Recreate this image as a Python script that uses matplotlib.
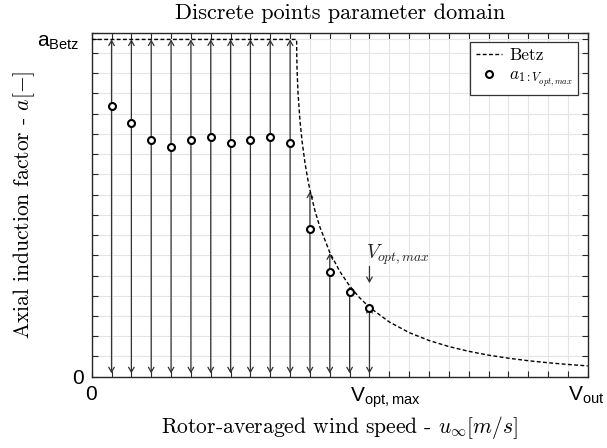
import matplotlib
matplotlib.use('Agg')
import matplotlib.pyplot as plt
from matplotlib.lines import Line2D
from matplotlib.ticker import FixedLocator, MultipleLocator, FixedFormatter
from matplotlib.transforms import ScaledTranslation

plt.rcParams['mathtext.fontset'] = 'cm'
plt.rcParams['axes.unicode_minus'] = False

# ---------------- data ----------------
A_BETZ = 1 / 3
V_OPT_MAX = 14
V_OUT = 25

speeds = [1, 2, 3, 4, 5, 6, 7, 8, 9, 10, 11, 12, 13, 14]
a_points = [0.268, 0.251, 0.234, 0.227, 0.234, 0.237, 0.231, 0.234, 0.237, 0.231,
            0.146, 0.103, 0.084, 0.068]
a_upper = [A_BETZ] * 10 + [0.183, 0.122, 0.089, 0.069]

betz_speed = [0, 10.33, 10.331, 10.335, 10.34, 10.35, 10.4, 10.5, 10.6, 10.75, 10.9,
              11, 11.25, 11.5, 12, 12.5, 13, 13.5, 14, 15, 16, 17, 18, 19, 20,
              21, 22, 23, 24, 25]
betz_a = [A_BETZ, A_BETZ, 0.3268, 0.3188, 0.313, 0.304, 0.280, 0.2526, 0.2332, 0.2113,
          0.1942, 0.1845, 0.1642, 0.148, 0.1228, 0.1042, 0.0897, 0.0781, 0.0686,
          0.0541, 0.0436, 0.0358, 0.0298, 0.0251, 0.0213, 0.0183, 0.0158, 0.0138,
          0.0121, 0.0107]

x_tick_values = [0, V_OPT_MAX, V_OUT]
x_tick_labels = [r'$\mathregular{0}$', r'$\mathregular{V_{opt,max}}$', r'$\mathregular{V_{out}}$']
y_tick_values = [0, A_BETZ]
y_tick_labels = [r'$\mathregular{0}$', r'$\mathregular{a_{Betz}}$']

# ---------------- figure ----------------
W, H = 607, 448
fig = plt.figure(figsize=(W / 100, H / 100), dpi=100)
ax = fig.add_axes([91.7 / W, 1 - 376.7 / H, 496 / W, 344 / H])

ax.set_xlim(0, V_OUT)
ax.set_ylim(0, 0.34)

spine_col = '#262626'
for s in ax.spines.values():
    s.set_color(spine_col)
    s.set_linewidth(1.0)

ax.xaxis.set_major_locator(FixedLocator(x_tick_values))
ax.xaxis.set_major_formatter(FixedFormatter(x_tick_labels))
ax.xaxis.set_minor_locator(MultipleLocator(1))
ax.yaxis.set_major_locator(FixedLocator(y_tick_values))
ax.yaxis.set_major_formatter(FixedFormatter(y_tick_labels))
ax.yaxis.set_minor_locator(MultipleLocator(0.02))

ax.tick_params(which='both', direction='in', top=True, right=True,
               color=spine_col, width=0.8, length=4)
ax.tick_params(axis='x', which='major', pad=6)
ax.tick_params(axis='y', which='major', pad=5)

tick_font = dict(family='Liberation Sans', size=15)
x_shift_px = [0, 16, -1]
y_shift_px = [0, -5]
for lab, dx in zip(ax.get_xticklabels(), x_shift_px):
    lab.set_fontfamily(tick_font['family'])
    lab.set_fontsize(tick_font['size'])
    lab.set_transform(lab.get_transform() + ScaledTranslation(dx / 100, 0, fig.dpi_scale_trans))
for lab, dx in zip(ax.get_yticklabels(), y_shift_px):
    lab.set_fontfamily(tick_font['family'])
    lab.set_fontsize(tick_font['size'])
    lab.set_transform(lab.get_transform() + ScaledTranslation(dx / 100, 0, fig.dpi_scale_trans))

ax.grid(True, which='both', color='#e4e4e4', linewidth=0.8)
ax.set_axisbelow(True)

dash = (0, (2.8, 1.7))
# Betz limit
ax.plot(betz_speed, betz_a, linestyle=dash, color='black', linewidth=1.0, zorder=3)

# double arrows for the parameter domain
for v, top in zip(speeds, a_upper):
    ax.annotate('', xy=(v, top), xytext=(v, 0),
                arrowprops=dict(arrowstyle='<->, head_length=0.35, head_width=0.2',
                                color='#333333', lw=0.9, shrinkA=2.4, shrinkB=0),
                zorder=2)

# discrete points
ax.plot(speeds, a_points, linestyle='none', marker='o', markersize=5,
        markerfacecolor='white', markeredgecolor='black', markeredgewidth=1.5,
        zorder=4)

# V_opt,max annotation
ax.annotate('', xy=(V_OPT_MAX, 0.0925), xytext=(V_OPT_MAX, 0.109),
            arrowprops=dict(arrowstyle='->, head_length=0.35, head_width=0.2',
                            color='#333333', lw=0.9, shrinkA=0, shrinkB=0))
ax.text(13.83, 0.1165, r'$V_{opt,max}$', fontsize=14, ha='left', va='baseline',
        color='#222222')

# labels
serif = 'cmr10'
ax.set_title('Discrete points parameter domain', fontfamily=serif, fontsize=16, pad=10)
ax.set_xlabel(r'Rotor-averaged wind speed - $u_{\infty}[m/s]$', fontfamily=serif,
              fontsize=15.5, labelpad=3)
ax.set_ylabel(r'Axial induction factor - $a[-]$', fontfamily=serif, fontsize=15.5,
              labelpad=0)

handles = [Line2D([], [], linestyle=dash, color='black', linewidth=1.0),
           Line2D([], [], linestyle='none', marker='o', markersize=5,
                  markerfacecolor='white', markeredgecolor='black', markeredgewidth=1.5)]
leg = ax.legend(handles, ['Betz', r'$a_{1:V_{opt,max}}$'], loc='upper right',
                bbox_to_anchor=(1 - 9.4 / 496, 1 - 9.6 / 344),
                borderaxespad=0, frameon=True, fancybox=False,
                edgecolor='#333333', framealpha=1, handlelength=1.5,
                handletextpad=0.45, borderpad=0.3, labelspacing=0.3,
                prop={'family': serif, 'size': 12.5})
leg.get_frame().set_linewidth(0.9)

fig.savefig('out.png', dpi=100)
